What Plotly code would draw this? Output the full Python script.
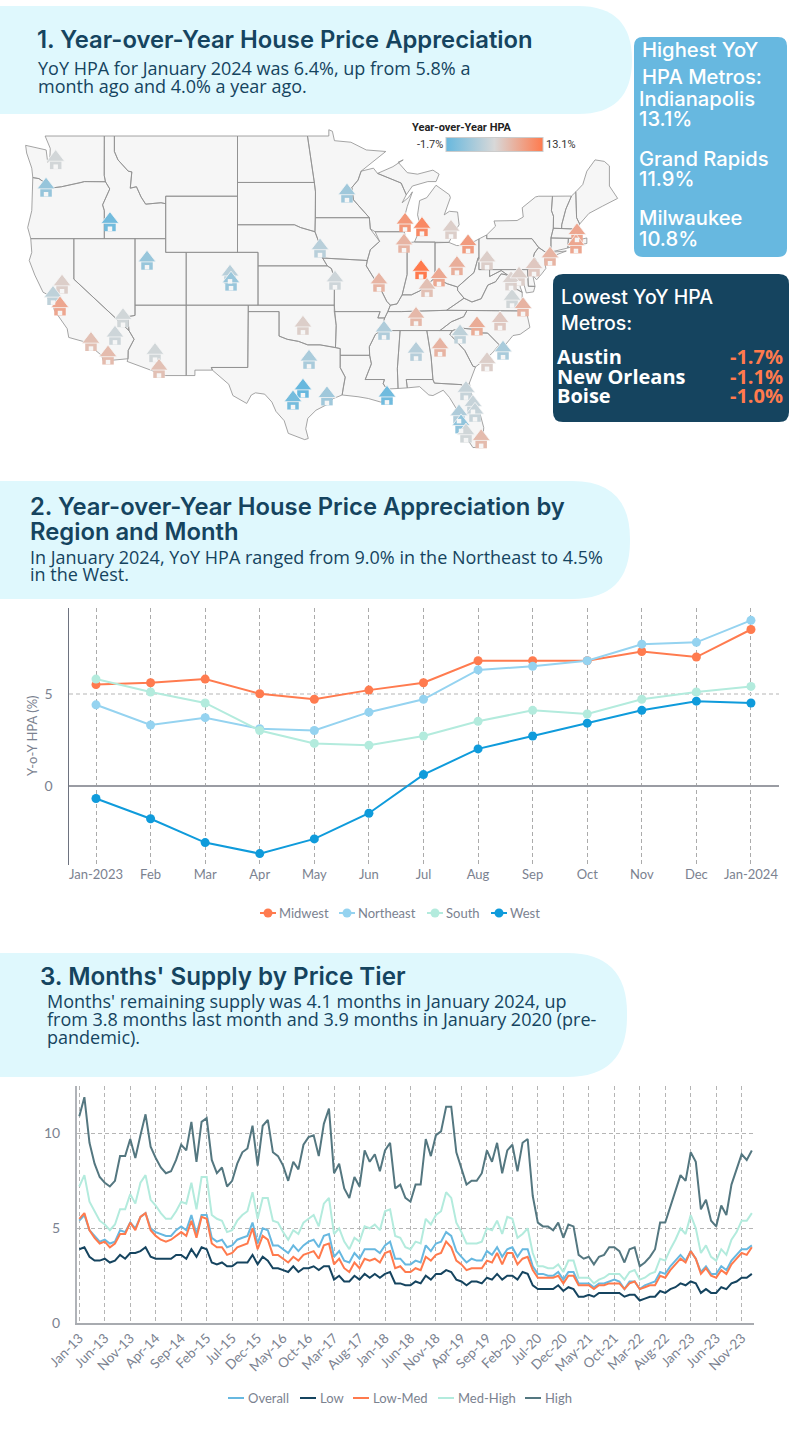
import numpy as np
import plotly.graph_objects as go

W, H = 800, 1445

# ---------- data: chart 2 ----------
months_2 = ["Jan-2023","Feb","Mar","Apr","May","Jun","Jul","Aug","Sep","Oct","Nov","Dec","Jan-2024"]
midwest = [5.5,5.6,5.8,5.0,4.7,5.2,5.6,6.8,6.8,6.8,7.3,7.0,8.5]
northeast = [4.4,3.3,3.7,3.1,3.0,4.0,4.7,6.3,6.5,6.8,7.7,7.8,9.0]
south = [5.8,5.1,4.5,3.0,2.3,2.2,2.7,3.5,4.1,3.9,4.7,5.1,5.4]
west = [-0.7,-1.8,-3.1,-3.7,-2.9,-1.5,0.6,2.0,2.7,3.4,4.1,4.6,4.5]

# ---------- data: chart 3 ----------
month_names = ["Jan","Feb","Mar","Apr","May","Jun","Jul","Aug","Sep","Oct","Nov","Dec"]
months_3 = [f"{month_names[i % 12]}-{13 + i // 12}" for i in range(133)]
high = [10.9,11.9,9.5,8.4,7.7,7.4,7.2,7.5,8.8,8.8,9.7,8.7,
        9.9,11.0,9.3,8.7,8.2,7.9,8.0,8.6,9.4,9.1,10.6,8.5,
        10.6,10.8,8.6,7.9,8.2,7.2,7.5,8.4,9.0,9.2,10.4,8.3,
        10.4,10.7,9.0,8.8,8.3,7.5,8.5,8.1,9.4,9.8,9.9,8.8,
        10.5,11.3,7.9,8.4,7.1,6.6,7.7,7.2,9.1,8.5,8.9,8.0,
        9.1,9.5,7.1,7.3,6.6,6.4,7.3,7.3,9.7,8.8,9.9,10.1,
        11.4,11.4,9.0,8.2,7.3,7.5,7.5,7.9,9.1,8.5,9.5,7.9,
        9.1,9.4,8.0,9.5,9.7,6.7,5.3,5.1,5.1,4.9,5.3,4.5,
        5.2,5.1,3.6,3.4,3.5,3.1,3.5,3.6,4.0,4.0,3.8,3.2,
        3.9,4.0,3.0,3.2,3.5,3.9,5.3,5.3,6.1,6.9,7.8,7.5,
        9.0,8.5,6.0,6.5,5.4,5.1,6.2,5.7,7.3,8.1,8.9,8.6,
        9.1]
med_high = [7.2,7.8,6.4,5.9,5.4,5.2,4.9,5.2,6.0,6.0,6.8,6.3,
            7.4,7.8,6.5,6.2,5.8,5.5,5.5,5.9,6.4,6.3,7.4,6.0,
            7.7,7.7,5.7,5.5,5.4,4.8,4.9,5.4,5.7,5.9,6.9,5.5,
            6.6,6.6,5.4,5.3,4.8,4.4,4.9,4.7,5.3,5.5,5.7,5.1,
            6.3,6.6,4.7,5.0,4.3,3.9,4.5,4.3,5.1,5.0,5.2,4.9,
            5.9,6.0,4.6,4.5,4.0,3.9,4.3,4.2,5.5,5.2,5.7,5.9,
            6.9,6.6,5.3,4.8,4.2,4.2,4.2,4.3,5.0,4.9,5.4,4.7,
            5.6,5.5,4.5,4.7,5.0,3.7,3.0,3.0,2.9,2.9,3.1,2.7,
            3.3,3.3,2.4,2.4,2.4,2.1,2.3,2.4,2.6,2.6,2.6,2.3,
            2.7,2.8,2.3,2.4,2.6,2.7,3.4,3.3,3.9,4.4,5.0,4.7,
            5.7,5.0,3.7,4.1,3.5,3.3,3.9,3.6,4.4,4.8,5.4,5.4,
            5.8]
overall = [5.4,5.7,4.9,4.6,4.3,4.4,4.2,4.3,4.9,4.8,5.3,5.0,
           5.6,5.8,5.0,4.8,4.7,4.6,4.6,4.9,5.1,4.9,5.7,4.7,
           5.7,5.7,4.5,4.3,4.4,4.0,4.1,4.4,4.5,4.6,5.3,4.2,
           5.0,4.9,4.1,4.1,3.9,3.7,4.1,3.8,4.1,4.3,4.4,4.0,
           4.6,4.7,3.5,3.8,3.3,3.2,3.7,3.4,3.9,3.9,3.9,3.7,
           4.1,4.3,3.4,3.4,3.1,3.1,3.3,3.2,4.1,3.8,4.2,4.3,
           4.8,4.6,3.8,3.5,3.2,3.4,3.3,3.3,3.8,3.6,4.0,3.5,
           3.9,4.0,3.5,3.9,3.9,3.0,2.6,2.6,2.5,2.5,2.7,2.3,
           2.7,2.7,2.1,2.1,2.1,1.9,2.1,2.1,2.2,2.3,2.2,1.8,
           2.2,2.2,1.8,2.0,2.1,2.2,2.7,2.6,3.0,3.3,3.6,3.3,
           3.8,3.4,2.7,3.0,2.6,2.6,3.0,2.8,3.3,3.6,3.9,3.9,
           4.1]
low_med = [5.5,5.8,4.9,4.5,4.2,4.3,4.0,4.2,4.7,4.7,5.3,4.9,
           5.6,5.8,4.9,4.6,4.4,4.3,4.4,4.6,4.8,4.6,5.4,4.5,
           5.6,5.5,4.2,4.0,4.0,3.6,3.7,4.0,4.1,4.2,5.0,3.9,
           4.6,4.4,3.6,3.6,3.4,3.2,3.5,3.3,3.6,3.7,3.8,3.4,
           4.1,4.2,3.1,3.4,2.9,2.7,3.2,2.9,3.4,3.3,3.4,3.2,
           3.7,3.8,2.9,3.0,2.7,2.7,2.9,2.8,3.5,3.3,3.6,3.7,
           4.3,4.0,3.3,3.1,2.8,2.9,2.9,2.9,3.3,3.2,3.7,3.1,
           3.7,3.7,3.1,3.4,3.5,2.8,2.4,2.4,2.4,2.4,2.5,2.1,
           2.5,2.5,2.0,2.0,2.0,1.8,2.0,2.0,2.1,2.1,2.1,1.8,
           2.1,2.2,1.8,1.9,2.0,2.0,2.5,2.4,2.8,3.1,3.4,3.2,
           3.8,3.4,2.6,2.9,2.5,2.4,2.8,2.6,3.1,3.4,3.7,3.6,
           4.0]
low = [3.9,4.0,3.5,3.3,3.3,3.4,3.2,3.3,3.6,3.4,3.7,3.7,
       3.8,4.0,3.5,3.4,3.4,3.4,3.4,3.6,3.6,3.4,3.9,3.5,
       4.0,3.9,3.2,3.1,3.2,3.0,3.0,3.2,3.2,3.2,3.6,3.1,
       3.5,3.3,2.9,2.9,2.8,2.7,3.0,2.7,2.9,2.9,3.0,2.8,
       3.0,3.0,2.3,2.5,2.2,2.2,2.5,2.3,2.6,2.4,2.6,2.4,
       2.6,2.7,2.1,2.1,2.0,2.0,2.2,2.1,2.5,2.3,2.6,2.6,
       2.8,2.7,2.3,2.2,2.0,2.2,2.2,2.1,2.4,2.3,2.6,2.3,
       2.5,2.5,2.3,2.7,2.6,2.0,1.8,1.8,1.8,1.8,2.0,1.7,
       1.9,1.8,1.4,1.4,1.5,1.4,1.6,1.6,1.6,1.6,1.6,1.4,
       1.5,1.5,1.2,1.3,1.4,1.4,1.7,1.6,1.8,1.9,2.1,2.0,
       2.2,2.1,1.6,1.8,1.6,1.6,1.9,1.8,2.1,2.2,2.4,2.4,
       2.6]
for _s in (high, med_high, overall, low_med, low):
    assert len(_s) == 133, len(_s)

# ---------- data: metros (lon, lat, YoY HPA) ----------
metro_names = ["Seattle","Portland","Boise","Salt Lake City","Denver","Colorado Springs","Sacramento","San Francisco",
    "San Jose","Las Vegas","Riverside","Los Angeles","San Diego","Phoenix","Tucson","Oklahoma City","Dallas",
    "San Antonio","Austin","Houston","Omaha","Kansas City","Minneapolis","St. Louis","Memphis","Nashville",
    "Birmingham","Atlanta","New Orleans","Milwaukee","Grand Rapids","Chicago","Detroit","Cleveland","Indianapolis",
    "Cincinnati","Louisville","Columbus","Pittsburgh","Charlotte","Raleigh","Greenville","Wilmington","Charleston",
    "Richmond","Virginia Beach","Washington","Baltimore","Philadelphia","New York","Boston","Providence",
    "Jacksonville","Orlando","Palm Bay","Lakeland","Tampa","Cape Coral","Miami"]
metro_lon = [-121.77,-122.71,-116.48,-112.87,-104.78,-104.68,-121.15,-122.03,-121.35,-115.21,-115.99,-118.33,-116.67,
    -112.09,-111.7,-97.67,-97.08,-98.64,-97.67,-95.33,-96.01,-94.55,-93.38,-90.26,-89.77,-86.65,-86.65,-84.31,-89.48,
    -87.72,-86.07,-87.82,-83.24,-81.58,-86.16,-84.41,-85.58,-82.66,-79.73,-80.71,-78.46,-82.36,-78.17,-79.73,-77.29,
    -76.22,-77.39,-76.61,-75.15,-73.59,-70.96,-71.06,-81.78,-81.1,-80.9,-82.46,-82.26,-81.78,-80.3]
metro_lat = [47.45,45.6,43.2,40.4,39.35,38.83,38.6,37.73,36.92,36.0,34.6,34.1,33.0,33.2,31.9,35.4,32.65,29.25,30.25,
    29.6,41.3,38.9,45.2,38.75,35.0,36.1,33.3,33.65,29.65,43.15,42.85,41.65,42.65,41.6,39.7,39.15,38.35,40.0,40.4,35.35,
    35.75,34.7,33.4,32.45,37.5,36.85,38.85,39.2,39.9,40.7,42.4,41.6,30.05,28.85,28.2,28.05,27.2,26.4,25.9]
metro_hpa = [5.3,1.4,-1.0,1.5,3.6,1.6,6.5,4.0,9.6,5.2,5.0,7.6,8.0,5.2,7.6,6.5,2.6,-0.8,-1.7,2.0,3.6,5.0,2.0,8.5,
    3.0,8.2,3.5,8.6,-1.1,10.8,11.9,8.5,6.5,10.5,13.1,9.5,7.6,9.0,6.5,9.2,7.0,4.0,2.6,6.5,5.2,8.6,6.2,6.5,7.0,8.5,
    9.6,9.6,4.5,4.5,4.5,3.0,1.0,5.2,8.0]

# ---------- data: state outlines (lon, lat) ----------
states = {
"WA":[(-124.7,48.4),(-123.2,48.15),(-122.7,48.1),(-122.55,47.3),(-122.35,47.4),(-122.3,48.2),(-122.8,49),(-117.03,49),(-117.04,46.42),(-116.92,45.99),(-118.98,46),(-119.3,45.93),(-121.2,45.65),(-122.3,45.55),(-122.8,45.9),(-123.4,46.2),(-124,46.27),(-124.1,46.9),(-124.6,47.9)],
"OR":[(-124,46.27),(-123.4,46.2),(-122.8,45.9),(-122.3,45.55),(-121.2,45.65),(-119.3,45.93),(-118.98,46),(-116.92,45.99),(-116.5,45.5),(-117.2,44.4),(-117.03,44),(-117.03,42),(-124.2,42),(-124.5,42.8),(-124.1,44)],
"CA":[(-124.2,42),(-120,42),(-120,39),(-114.63,35),(-114.13,34.3),(-114.7,33.4),(-114.72,32.72),(-117.12,32.53),(-117.3,33),(-118.4,33.75),(-118.5,34.03),(-119.2,34.15),(-120.5,34.45),(-120.65,35.15),(-121.9,36.6),(-122,36.95),(-122.5,37.5),(-122.5,37.8),(-123,38),(-123.8,39.3),(-124.35,40.4),(-124.1,41)],
"NV":[(-120,42),(-114.04,42),(-114.04,36.2),(-114.75,36.1),(-114.63,35),(-120,39)],
"ID":[(-117.03,49),(-116.05,49),(-116.05,48),(-115.7,47.45),(-114.7,46.7),(-114.35,46.65),(-114.5,45.55),(-113.9,45.65),(-113.45,44.95),(-113,44.45),(-111.5,44.55),(-111.05,44.48),(-111.05,42),(-117.03,42),(-117.03,44),(-117.2,44.4),(-116.5,45.5),(-116.92,45.99),(-117.04,46.42)],
"MT":[(-116.05,49),(-104.05,49),(-104.05,45),(-111.05,45),(-111.05,44.48),(-111.5,44.55),(-113,44.45),(-113.45,44.95),(-113.9,45.65),(-114.5,45.55),(-114.35,46.65),(-114.7,46.7),(-115.7,47.45),(-116.05,48)],
"WY":[(-111.05,45),(-104.05,45),(-104.05,41),(-111.05,41)],
"UT":[(-114.04,42),(-111.05,42),(-111.05,41),(-109.05,41),(-109.05,37),(-114.04,37)],
"CO":[(-109.05,41),(-102.05,41),(-102.05,37),(-109.05,37)],
"AZ":[(-114.04,37),(-109.05,37),(-109.05,31.33),(-111.07,31.33),(-114.81,32.5),(-114.72,32.72),(-114.7,33.4),(-114.13,34.3),(-114.63,35),(-114.75,36.1),(-114.04,36.2)],
"NM":[(-109.05,37),(-103,37),(-103.05,32),(-106.6,32),(-106.5,31.78),(-108.2,31.78),(-108.2,31.33),(-109.05,31.33)],
"TX":[(-103,36.5),(-100,36.5),(-100,34.56),(-99.2,34.3),(-98.1,34.13),(-97.2,33.85),(-96,33.85),(-94.5,33.64),(-94.04,33.55),(-94.04,31.99),(-93.55,31.2),(-93.75,30.3),(-93.85,29.7),(-94.7,29.4),(-95.3,28.9),(-96.4,28.4),(-97.2,27.7),(-97.4,26.8),(-97.15,25.95),(-97.5,25.85),(-99.1,26.4),(-99.5,27.5),(-100.3,28.3),(-100.7,29.1),(-101.4,29.77),(-102.3,29.88),(-102.7,29.7),(-103.15,28.98),(-104.5,29.65),(-104.9,30.6),(-106.5,31.78),(-106.6,32),(-103.05,32)],
"OK":[(-103,37),(-94.62,37),(-94.43,35.4),(-94.5,33.64),(-96,33.85),(-97.2,33.85),(-98.1,34.13),(-99.2,34.3),(-100,34.56),(-100,36.5),(-103,36.5)],
"KS":[(-102.05,40),(-95.3,40),(-94.9,39.8),(-94.6,39.1),(-94.62,37),(-102.05,37)],
"NE":[(-104.05,43),(-98.5,43),(-97.9,42.8),(-96.5,42.5),(-96.1,41.7),(-95.85,40.7),(-95.3,40),(-102.05,40),(-102.05,41),(-104.05,41)],
"SD":[(-104.05,45.94),(-96.56,45.94),(-96.45,45.3),(-96.45,43.5),(-96.5,42.5),(-97.9,42.8),(-98.5,43),(-104.05,43)],
"ND":[(-104.05,49),(-97.23,49),(-96.56,45.94),(-104.05,45.94)],
"MN":[(-97.23,49),(-95.15,49),(-95.15,49.4),(-94.8,49.3),(-94.6,48.7),(-93,48.6),(-91.5,48.1),(-89.6,48),(-92,46.7),(-92.3,46.1),(-92.9,45.6),(-92.75,44.75),(-91.2,43.5),(-96.45,43.5),(-96.45,45.3),(-96.56,45.94)],
"IA":[(-96.45,43.5),(-91.2,43.5),(-91.1,42.7),(-90.2,41.8),(-91.1,41.2),(-91.4,40.4),(-95.75,40.58),(-96.1,41.7),(-96.5,42.5)],
"MO":[(-95.75,40.58),(-91.4,40.4),(-91.5,40),(-90.7,39),(-90.2,38.8),(-90.2,38.4),(-89.5,37.3),(-89.15,37),(-89.4,36.5),(-89.7,36),(-90.37,36),(-90.15,36.5),(-94.62,36.5),(-94.62,37),(-94.6,39.1),(-94.9,39.8),(-95.3,40)],
"AR":[(-94.62,36.5),(-90.15,36.5),(-90.37,36),(-89.7,36),(-90.1,35),(-90.6,34.7),(-91.2,33.7),(-91.17,33),(-94.04,33),(-94.04,33.55),(-94.5,33.64),(-94.43,35.4)],
"LA":[(-94.04,33),(-91.17,33),(-91,32.3),(-91.6,31),(-89.73,31),(-89.85,30.65),(-89.5,30.2),(-89.4,30.05),(-89,29.2),(-90.1,29.1),(-91.3,29.4),(-92.3,29.55),(-93.85,29.7),(-93.75,30.3),(-93.55,31.2),(-94.04,31.99)],
"MS":[(-90.1,35),(-88.2,35),(-88.47,31.9),(-88.4,30.25),(-89.5,30.2),(-89.85,30.65),(-89.73,31),(-91.6,31),(-91,32.3),(-91.17,33),(-91.2,33.7),(-90.6,34.7)],
"AL":[(-88.2,35),(-85.6,35),(-85.18,32.87),(-85,31),(-87.6,31),(-87.5,30.3),(-88.4,30.25),(-88.47,31.9)],
"GA":[(-85.6,35),(-83.1,35),(-83.35,34.7),(-82.6,34),(-81.9,33.4),(-81.1,32.1),(-80.85,32.05),(-81.45,30.7),(-82.05,30.36),(-82.2,30.57),(-84.86,30.7),(-85,31),(-85.18,32.87)],
"FL":[(-87.6,31),(-85,31),(-84.86,30.7),(-82.2,30.57),(-82.05,30.36),(-81.45,30.7),(-81.25,29.8),(-80.5,28.4),(-80.05,26.9),(-80.15,25.75),(-80.4,25.2),(-81.1,25.15),(-81.8,26.1),(-82.1,26.7),(-82.8,27.8),(-82.7,28.5),(-83.4,29.5),(-84,30.1),(-85,29.65),(-85.4,29.7),(-86.3,30.4),(-87.5,30.3)],
"SC":[(-83.1,35),(-82.3,35.2),(-81.05,35.1),(-80.8,34.82),(-79.67,34.8),(-78.55,33.86),(-79.2,33.2),(-80,32.6),(-80.85,32.05),(-81.1,32.1),(-81.9,33.4),(-82.6,34),(-83.35,34.7)],
"NC":[(-84.32,35),(-83.1,35),(-82.3,35.2),(-81.05,35.1),(-80.8,34.82),(-79.67,34.8),(-78.55,33.86),(-77.9,33.9),(-77.2,34.6),(-76.5,34.7),(-75.55,35.25),(-75.9,36.55),(-81.68,36.59),(-82,36.1),(-83.2,35.7)],
"TN":[(-90.1,35),(-84.32,35),(-83.2,35.7),(-82,36.1),(-81.68,36.59),(-83.68,36.6),(-88.07,36.5),(-89.4,36.5),(-89.7,36)],
"KY":[(-89.4,36.5),(-88.07,36.5),(-83.68,36.6),(-81.97,37.54),(-82.6,38.15),(-82.6,38.4),(-83.6,38.65),(-84.8,39.1),(-85.4,38.7),(-86.3,38.1),(-87.1,37.8),(-88,37.8),(-88.5,37.1),(-89.15,37)],
"VA":[(-83.68,36.6),(-81.68,36.59),(-75.9,36.55),(-76,36.9),(-76.3,37.5),(-76.3,38),(-77,38.3),(-77.04,38.8),(-77.7,39.3),(-78.35,39.4),(-78.9,38.8),(-79.65,38.55),(-80.3,37.5),(-81.2,37.25),(-81.97,37.54)],
"WV":[(-81.97,37.54),(-82.6,38.15),(-82.6,38.4),(-81.75,39),(-81,39.5),(-80.6,40.6),(-80.52,40.64),(-80.52,39.72),(-79.48,39.72),(-79.48,39.2),(-78.35,39.65),(-77.7,39.3),(-78.35,39.4),(-78.9,38.8),(-79.65,38.55),(-80.3,37.5),(-81.2,37.25)],
"OH":[(-84.8,41.7),(-83.45,41.73),(-82.7,41.5),(-81.7,41.5),(-80.52,41.98),(-80.52,40.64),(-80.6,40.6),(-81,39.5),(-81.75,39),(-82.6,38.4),(-83.6,38.65),(-84.8,39.1)],
"IN":[(-87.52,41.7),(-86.8,41.76),(-84.8,41.76),(-84.8,39.1),(-85.4,38.7),(-86.3,38.1),(-87.1,37.8),(-88,37.8),(-87.52,39.35)],
"IL":[(-90.64,42.5),(-87.8,42.5),(-87.52,41.7),(-87.52,39.35),(-88,37.8),(-88.5,37.1),(-89.15,37),(-89.5,37.3),(-90.2,38.4),(-90.2,38.8),(-90.7,39),(-91.5,40),(-91.4,40.4),(-91.1,41.2),(-90.2,41.8)],
"WI":[(-92,46.7),(-90.8,46.9),(-90.4,46.55),(-88.1,45.9),(-87.6,45.1),(-88,44.55),(-87.4,44.9),(-87,45.3),(-87.5,44.3),(-87.9,43.2),(-87.8,42.5),(-90.64,42.5),(-91.1,42.7),(-91.2,43.5),(-92.75,44.75),(-92.9,45.6),(-92.3,46.1)],
"MIL":[(-86.8,41.76),(-84.8,41.76),(-83.45,41.73),(-83.1,42.2),(-82.45,43),(-82.6,43.9),(-83.4,43.95),(-83.9,43.7),(-83.3,44.9),(-83.4,45.1),(-84.7,45.75),(-85.6,44.9),(-86.3,44.7),(-86.5,43.7),(-86.2,42.8)],
"MIU":[(-90.4,46.55),(-88.1,45.9),(-87.6,45.1),(-87,45.7),(-85.5,46),(-84.7,46),(-84.4,46.5),(-85,46.77),(-86.5,46.5),(-87.5,46.6),(-88.4,47.3),(-87.9,47.45),(-88.9,47)],
"PA":[(-80.52,41.98),(-79.76,42.27),(-79.76,42),(-75.35,42),(-74.7,41.36),(-75.1,40.95),(-75.2,40.7),(-74.75,40.2),(-75.4,39.8),(-75.79,39.72),(-80.52,39.72)],
"NY":[(-79.76,42.27),(-78.9,42.9),(-79.05,43.27),(-76.8,43.3),(-76.2,43.55),(-76.3,44.2),(-75,44.95),(-74.7,45),(-73.35,45),(-73.45,44),(-73.25,43.6),(-73.27,42.75),(-73.5,42.05),(-73.5,41.3),(-73.65,41),(-72,41.1),(-73.9,40.55),(-74,40.7),(-74,41),(-74.7,41.36),(-75.35,42),(-79.76,42)],
"NJ":[(-74.7,41.36),(-74,41),(-74.1,40.45),(-74,39.8),(-74.4,39.4),(-74.9,38.95),(-75.5,39.5),(-75.4,39.8),(-74.75,40.2),(-75.2,40.7),(-75.1,40.95)],
"DE":[(-75.79,39.72),(-75.4,39.8),(-75.05,38.45),(-75.7,38.46)],
"MD":[(-79.48,39.72),(-75.79,39.72),(-75.7,38.46),(-75.05,38.45),(-75.2,38.03),(-75.9,37.95),(-76.2,38.8),(-76.4,39.2),(-76.5,38.4),(-76.3,38),(-77,38.3),(-77.04,38.8),(-77.7,39.3),(-78.35,39.65),(-79.48,39.2)],
"CT":[(-73.5,42.05),(-71.8,42.02),(-71.85,41.32),(-73.65,41),(-73.5,41.3)],
"RI":[(-71.8,42.02),(-71.38,42.02),(-71.15,41.5),(-71.85,41.32)],
"MA":[(-73.5,42.05),(-73.27,42.75),(-71.3,42.7),(-70.85,42.87),(-70.6,42.65),(-71,42.3),(-70.6,41.95),(-70,42.05),(-70,41.65),(-71.15,41.5),(-71.38,42.02)],
"VT":[(-73.35,45),(-71.5,45.01),(-72.05,44.1),(-72.45,43),(-72.46,42.73),(-73.27,42.75),(-73.25,43.6),(-73.45,44)],
"NH":[(-71.5,45.01),(-71.08,45.3),(-71,43.5),(-70.7,43.05),(-70.85,42.87),(-71.3,42.7),(-72.46,42.73),(-72.45,43),(-72.05,44.1)],
"ME":[(-71.08,45.3),(-70.4,45.8),(-70,46.7),(-69.2,47.45),(-68.3,47.35),(-67.8,47.05),(-67.8,45.7),(-67,44.85),(-68.5,44.3),(-69.8,43.8),(-70.7,43.05),(-71,43.5)],
}

# ---------- palette ----------
NAVY = "#15445F"; ORANGE = "#FF7A4D"; SKY = "#67B8E0"; PANEL = "#DFF8FD"; GREY = "#7B8290"; MINT = "#B3EBDD"
SERIF_BOLD = "Inter"; BODY = "Open Sans"; CHART = "Lato"

def yp(py):
    return 1 - py / H
def xp(px):
    return px / W

def rounded(x0, y0, x1, y1, rl, rr):
    X0, X1, Y0, Y1 = xp(x0), xp(x1), yp(y0), yp(y1)
    rxl, ryl, rxr, ryr = rl / W, rl / H, rr / W, rr / H
    return (f"M{X0+rxl},{Y0} L{X1-rxr},{Y0} Q{X1},{Y0} {X1},{Y0-ryr} L{X1},{Y1+ryr} Q{X1},{Y1} {X1-rxr},{Y1} "
            f"L{X0+rxl},{Y1} Q{X0},{Y1} {X0},{Y1+ryl} L{X0},{Y0-ryl} Q{X0},{Y0} {X0+rxl},{Y0} Z")

shapes = []
for box, fill in [((0, 6, 632, 114, 0, 54), PANEL), ((0, 481, 630, 599, 0, 58), PANEL), ((0, 953, 627, 1077, 0, 60), PANEL),
                  ((634, 37, 787, 257, 9, 9), SKY), ((553, 274, 789, 422, 10, 10), NAVY)]:
    shapes.append(dict(type="path", xref="paper", yref="paper", path=rounded(*box), fillcolor=fill, line=dict(width=0), layer="below"))

ann = []
def T(text, x, y, size, color=NAVY, family=BODY, weight=400, anchor="left"):
    ann.append(dict(text=text, x=xp(x), y=yp(y), xref="paper", yref="paper", xanchor=anchor, yanchor="middle", showarrow=False,
                    font=dict(size=size, color=color, family=family, weight=weight)))

T("1. Year-over-Year House Price Appreciation", 35, 40, 23.8, family=SERIF_BOLD, weight=600)
T("YoY HPA for January 2024 was 6.4%, up from 5.8% a", 36, 68, 18)
T("month ago and 4.0% a year ago.", 36, 86, 18)
T("2. Year-over-Year House Price Appreciation by", 28, 506, 23.8, family=SERIF_BOLD, weight=600)
T("Region and Month", 28, 531, 23.8, family=SERIF_BOLD, weight=600)
T("In January 2024, YoY HPA ranged from 9.0% in the Northeast to 4.5%", 28, 557, 18)
T("in the West.", 28, 574, 18)
T("3. Months' Supply by Price Tier", 38, 976, 24.2, family=SERIF_BOLD, weight=600)
T("Months' remaining supply was 4.1 months in January 2024, up", 45, 1001, 18)
T("from 3.8 months last month and 3.9 months in January 2020 (pre-", 45, 1019, 18)
T("pandemic).", 45, 1037, 18)

for text, x, y in [("Highest YoY", 640, 50), ("HPA Metros:", 640, 76), ("Indianapolis", 637, 98), ("13.1%", 637, 118),
                   ("Grand Rapids", 637, 158), ("11.9%", 637, 178), ("Milwaukee", 637, 218), ("10.8%", 637, 239)]:
    T(text, x, y, 20.2, "white", SERIF_BOLD, 500)
T("Lowest YoY HPA", 559, 297, 19.5, "white", SERIF_BOLD, 500)
T("Metros:", 559, 323, 19.5, "white", SERIF_BOLD, 500)
for text, val, y in [("Austin", "-1.7%", 356), ("New Orleans", "-1.1%", 376), ("Boise", "-1.0%", 396)]:
    T(text, 555, y, 20, "white", BODY, 700)
    T(val, 785, y, 20, ORANGE, BODY, 700, "right")

T("Year-over-Year HPA", 462, 127, 11, "#222222", "Roboto", 700, "center")
T("-1.7%", 445, 145, 11, "#333333", "Roboto", 400, "right")
T("13.1%", 544, 145, 11, "#333333", "Roboto", 400, "left")
T("Y-o-Y HPA (%)", 32, 736, 13, GREY, CHART)
ann[-1]["textangle"] = -90
ann[-1]["xanchor"] = "center"; ann[-1]["yanchor"] = "middle"

# compact legends (swatch narrower than the library's minimum legend item)
colors_2 = {"Midwest": "#FF7B4F", "Northeast": "#95D3F0", "South": MINT, "West": "#0F9BDB"}
colors_3 = {"Overall": SKY, "Low": NAVY, "Low-Med": ORANGE, "Med-High": MINT, "High": "#547780"}
legend_2_x = {"Midwest": 260, "Northeast": 339, "South": 427, "West": 491}
legend_3_x = {"Overall": 228, "Low": 300, "Low-Med": 353, "Med-High": 438, "High": 525}
for name, x0 in legend_2_x.items():
    c = colors_2[name]
    shapes.append(dict(type="line", xref="paper", yref="paper", x0=xp(x0), x1=xp(x0 + 16), y0=yp(913), y1=yp(913), line=dict(color=c, width=2)))
    shapes.append(dict(type="circle", xref="paper", yref="paper", x0=xp(x0 + 3.5), x1=xp(x0 + 12.5), y0=yp(908.5), y1=yp(917.5), fillcolor=c, line=dict(width=0)))
    T(name, x0 + 17, 913, 13, GREY, CHART)
for name, x0 in legend_3_x.items():
    shapes.append(dict(type="line", xref="paper", yref="paper", x0=xp(x0), x1=xp(x0 + 16), y0=yp(1398), y1=yp(1398), line=dict(color=colors_3[name], width=2)))
    T(name, x0 + 18, 1398, 13, GREY, CHART)

fig = go.Figure()

# ---------- map ----------
def merc(lat):
    return np.degrees(np.log(np.tan(np.pi / 4 + np.radians(np.asarray(lat, float)) / 2)))

PXDEG = 10.26
lon_at = lambda px: -114.04 + (px - 135) / PXDEG
m_at = lambda py: float(merc(49)) - (py - 136) / PXDEG

xs, ys = [], []
for pts in states.values():
    pts = pts + [pts[0]]
    xs += [p[0] for p in pts] + [None]
    ys += [float(merc(p[1])) for p in pts] + [None]
fig.add_trace(go.Scatter(x=xs, y=ys, mode="lines", fill="toself", fillcolor="#F6F6F6",
                         line=dict(color="#8E8E8E", width=0.8), xaxis="x3", yaxis="y3", showlegend=False, hoverinfo="skip"))

scale = [[0, "#67B8DE"], [0.5, "#D8D8D8"], [1, "#FF7A4D"]]
my = merc(metro_lat)
off = lambda px: my - px / PXDEG
common = dict(color=metro_hpa, cmin=-1.7, cmax=13.1, colorscale=scale)
fig.add_trace(go.Scatter(x=metro_lon, y=off(3.5), mode="markers", text=metro_names, hoverinfo="text",
                         marker=dict(symbol="square", size=11.5, line=dict(width=0), **common),
                         xaxis="x3", yaxis="y3", showlegend=False))
fig.add_trace(go.Scatter(x=metro_lon, y=off(-2.5), mode="markers", text=metro_names, hoverinfo="text",
                         marker=dict(symbol="triangle-up", size=15.5, line=dict(width=0.8, color="#F6F6F6"), showscale=True,
                                     colorbar=dict(orientation="h", lenmode="pixels", len=97, thickness=14, x=xp(494.5), xanchor="center",
                                                   y=yp(145), yanchor="middle", showticklabels=False, ticks="", outlinecolor="#CCCCCC",
                                                   outlinewidth=1, xpad=0, ypad=0, title=dict(text="")), **common),
                         xaxis="x3", yaxis="y3", showlegend=False))
fig.add_trace(go.Scatter(x=metro_lon, y=off(6.8), mode="markers", hoverinfo="skip",
                         marker=dict(symbol="square", size=4.5, color="#F6F6F6", line=dict(width=0)),
                         xaxis="x3", yaxis="y3", showlegend=False))

# ---------- chart 2 ----------
for name, vals in [("Midwest", midwest), ("Northeast", northeast), ("South", south), ("West", west)]:
    c = colors_2[name]
    fig.add_trace(go.Scatter(x=months_2, y=vals, mode="lines+markers", name=name, line=dict(color=c, width=2),
                             marker=dict(color=c, size=9), xaxis="x", yaxis="y", showlegend=False))

# ---------- chart 3 ----------
for name, vals in [("Overall", overall), ("Low", low), ("Low-Med", low_med), ("Med-High", med_high), ("High", high)]:
    fig.add_trace(go.Scatter(x=months_3, y=vals, mode="lines", name=name, line=dict(color=colors_3[name], width=2),
                             xaxis="x2", yaxis="y2", showlegend=False))

tickfont = dict(family=CHART, size=13, color=GREY)
px2 = 54.58
px3 = 5.095
DASH = "4px,3px"
fig.update_layout(
    width=W, height=H, autosize=False, margin=dict(l=0, r=0, t=0, b=0, pad=0, autoexpand=False),
    paper_bgcolor="white", plot_bgcolor="rgba(0,0,0,0)", shapes=shapes, annotations=ann, showlegend=False,
    xaxis=dict(domain=[xp(68.5), xp(779)], range=[(68.5 - 96) / px2, (779 - 96) / px2], type="category", tickmode="array",
               tickvals=months_2, ticktext=months_2, showgrid=True, gridcolor="#ABABAB", griddash=DASH, gridwidth=1,
               showline=False, ticks="", tickfont=tickfont, zeroline=False, anchor="y", tickangle=0),
    yaxis=dict(domain=[yp(865), yp(608)], range=[-4.32, 9.67], tickvals=[0, 5], showgrid=True, gridcolor="#DADADA", griddash=DASH,
               gridwidth=1.5, zeroline=True, zerolinecolor="#9A9CA3", zerolinewidth=2, showline=True, linecolor="#6E7380", linewidth=1,
               ticks="", tickfont=dict(family=CHART, size=14, color=GREY), anchor="x", ticklabelstandoff=12),
    xaxis2=dict(domain=[xp(77), xp(753.5)], range=[(77 - 79.3) / px3, (753.5 - 79.3) / px3], type="category", tickmode="array",
                tickvals=months_3[::5], ticktext=months_3[::5], tickangle=-45, showgrid=True, gridcolor="#B5B5B5", griddash=DASH,
                gridwidth=1, showline=True, linecolor="#A8ABB0", linewidth=1.5, ticks="", tickfont=dict(family=CHART, size=13.5, color=GREY), anchor="y2"),
    yaxis2=dict(domain=[yp(1323.3), yp(1086)], range=[0, 12.49], tickvals=[0, 5, 10], showgrid=True, gridcolor="#B5B5B5", griddash=DASH,
                gridwidth=1, zeroline=False, showline=True, linecolor="#B0B3B8", linewidth=2, ticks="",
                tickfont=dict(family=CHART, size=14, color=GREY), anchor="x2", ticklabelstandoff=12),
    xaxis3=dict(domain=[0, xp(640)], range=[lon_at(0), lon_at(640)], visible=False, anchor="y3"),
    yaxis3=dict(domain=[yp(470), yp(125)], range=[m_at(470), m_at(125)], visible=False, anchor="x3"),
)

fig.write_html("out.html", config=dict(displayModeBar=False),
               post_script="document.body.style.margin='0';document.body.style.overflow='hidden';")
